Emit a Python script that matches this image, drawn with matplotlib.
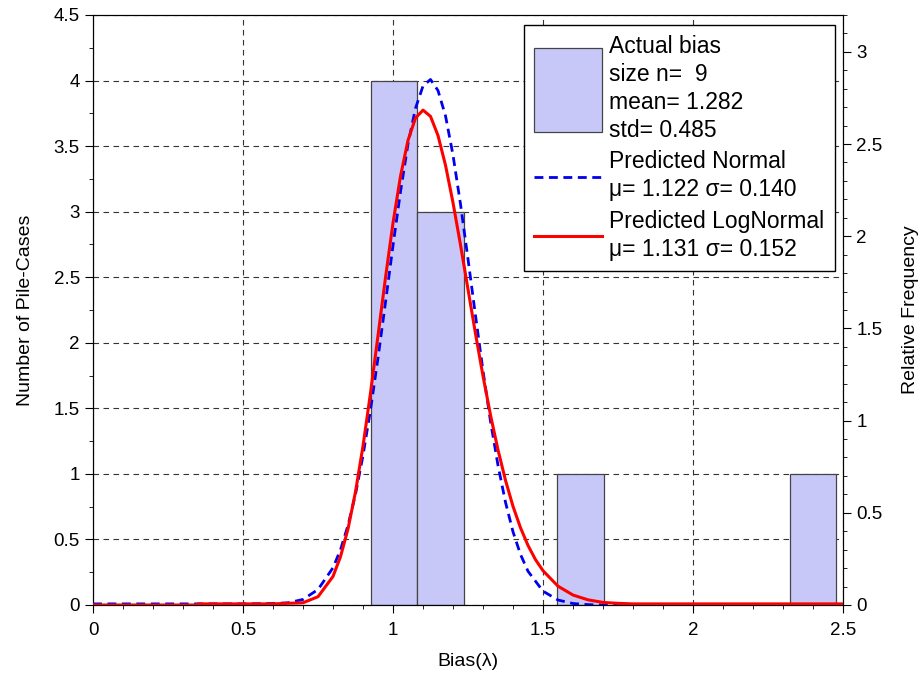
"""Pile bias histogram with fitted Normal / LogNormal curves."""

import matplotlib
matplotlib.use("Agg")
import matplotlib.pyplot as plt
from matplotlib.patches import Patch, Rectangle
from matplotlib.lines import Line2D
from matplotlib.legend_handler import HandlerPatch
from matplotlib.ticker import MultipleLocator

plt.rcParams["font.family"] = ["Liberation Sans", "DejaVu Sans"]

# histogram of actual bias (left axis: counts)
BIN_LEFT = [0.926, 1.081, 1.547, 2.323]
BIN_WIDTH = 0.1553
COUNTS = [4, 3, 1, 1]

# predicted Normal curve (right axis: relative frequency)
NORM_X = [0.0, 0.35, 0.5, 0.6, 0.65, 0.7, 0.75, 0.8, 0.825, 0.85, 0.875, 0.9,
          0.925, 0.95, 0.975, 1.0, 1.025, 1.05, 1.075, 1.1, 1.125, 1.15, 1.175,
          1.2, 1.225, 1.25, 1.275, 1.3, 1.325, 1.35, 1.375, 1.4, 1.425, 1.45,
          1.5, 1.55, 1.6, 1.65, 1.7, 1.8, 2.0, 2.5]
NORM_Y = [0.006, 0.006, 0.006, 0.008, 0.012, 0.03, 0.084, 0.202, 0.300, 0.432,
          0.601, 0.811, 1.059, 1.34, 1.642, 1.95, 2.242, 2.50, 2.694, 2.815,
          2.85, 2.79, 2.653, 2.44, 2.174, 1.876, 1.569, 1.27, 0.996, 0.757,
          0.557, 0.397, 0.274, 0.183, 0.075, 0.027, 0.008, 0.002, 0.0, 0.0,
          0.0, 0.0]

# predicted LogNormal curve
LOGN_X = [0.0, 0.35, 0.35, 0.6, 0.7, 0.75, 0.8, 0.825, 0.85, 0.875, 0.9, 0.925,
          0.95, 0.975, 1.0, 1.025, 1.05, 1.075, 1.1, 1.125, 1.15, 1.175, 1.2,
          1.225, 1.25, 1.275, 1.3, 1.325, 1.35, 1.375, 1.4, 1.425, 1.45, 1.475,
          1.5, 1.55, 1.6, 1.65, 1.7, 1.75, 1.8, 2.5]
LOGN_Y = [0.0, 0.0, 0.006, 0.006, 0.012, 0.045, 0.155, 0.262, 0.413, 0.614,
          0.862, 1.150, 1.461, 1.776, 2.072, 2.326, 2.520, 2.641, 2.684, 2.650,
          2.546, 2.385, 2.182, 1.953, 1.712, 1.471, 1.242, 1.030, 0.841, 0.676,
          0.535, 0.419, 0.323, 0.246, 0.186, 0.102, 0.054, 0.028, 0.014, 0.009,
          0.006, 0.006]

LEGEND_LABELS = [
    "Actual bias\nsize n=  9\nmean= 1.282\nstd= 0.485",
    "Predicted Normal\n\u03bc= 1.122 \u03c3= 0.140",
    "Predicted LogNormal\n\u03bc= 1.131 \u03c3= 0.152",
]

BAR_COLOR = "#C8C8F8"


def tall_box(legend, orig_handle, xdescent, ydescent, width, height, fontsize):
    # 图例色块比默认高, 跨越四行文字
    h = 3.65 * fontsize
    return Rectangle((-xdescent, -ydescent + height / 2 - h / 2), width, h)


def main() -> None:
    fig = plt.figure(figsize=(9.21, 6.8), dpi=100)
    ax = fig.add_axes([0.101, 0.1103, 0.8143, 0.8677])

    ax.bar(BIN_LEFT, COUNTS, width=BIN_WIDTH, align="edge", color=BAR_COLOR,
           edgecolor="#444444", linewidth=0.9, zorder=2)

    ax.set_xlim(0, 2.5)
    ax.set_ylim(0, 4.5)
    ax.xaxis.set_major_locator(MultipleLocator(0.5))
    ax.xaxis.set_minor_locator(MultipleLocator(0.1))
    ax.yaxis.set_major_locator(MultipleLocator(0.5))
    ax.yaxis.set_minor_locator(MultipleLocator(0.25))
    ax.xaxis.set_major_formatter(lambda v, p: f"{v:g}")
    ax.yaxis.set_major_formatter(lambda v, p: f"{v:g}")
    ax.grid(True, which="major", color="#333333", linestyle=(0, (5, 4)),
            linewidth=0.8, zorder=0)
    ax.set_axisbelow(True)
    ax.tick_params(which="major", direction="out", length=6, labelsize=13.5)
    ax.tick_params(axis="x", which="major", pad=6)
    ax.tick_params(which="minor", direction="out", length=3)
    ax.set_xlabel("Bias(\u03bb)", fontsize=14, labelpad=10)
    ax.set_ylabel("Number of Pile-Cases", fontsize=14, labelpad=14)

    ax2 = ax.twinx()
    ax2.plot(NORM_X, NORM_Y, color="#0000EE", linewidth=2.0,
             linestyle=(0, (3.2, 2)), zorder=3)
    ax2.plot(LOGN_X, LOGN_Y, color="#FF0000", linewidth=2.2, zorder=4)
    ax2.set_ylim(0, 3.2)
    ax2.yaxis.set_major_locator(MultipleLocator(0.5))
    ax2.yaxis.set_minor_locator(MultipleLocator(0.1))
    ax2.yaxis.set_major_formatter(lambda v, p: f"{v:g}")
    ax2.tick_params(which="major", direction="out", length=6, labelsize=13.5)
    ax2.tick_params(which="minor", direction="out", length=3)
    ax2.set_ylabel("Relative Frequency", fontsize=14, labelpad=14)

    handles = [
        Patch(facecolor=BAR_COLOR, edgecolor="#444444", linewidth=0.9),
        Line2D([], [], color="#0000EE", linewidth=2.0, linestyle=(0, (3.2, 2))),
        Line2D([], [], color="#FF0000", linewidth=2.2),
    ]
    leg = ax2.legend(handles, LEGEND_LABELS, loc="upper right",
                     bbox_to_anchor=(0.989, 0.983), fontsize=16.5,
                     frameon=True, fancybox=False, framealpha=1,
                     edgecolor="black", handlelength=2.97, handletextpad=0.3,
                     labelspacing=0.35, borderpad=0.45, borderaxespad=0,
                     handler_map={Patch: HandlerPatch(patch_func=tall_box)})
    leg.get_frame().set_linewidth(1.0)
    for t in leg.get_texts():
        t.set_linespacing(1.28)
    leg.set_zorder(10)

    plt.savefig("out.png", dpi=100)


if __name__ == "__main__":
    main()
